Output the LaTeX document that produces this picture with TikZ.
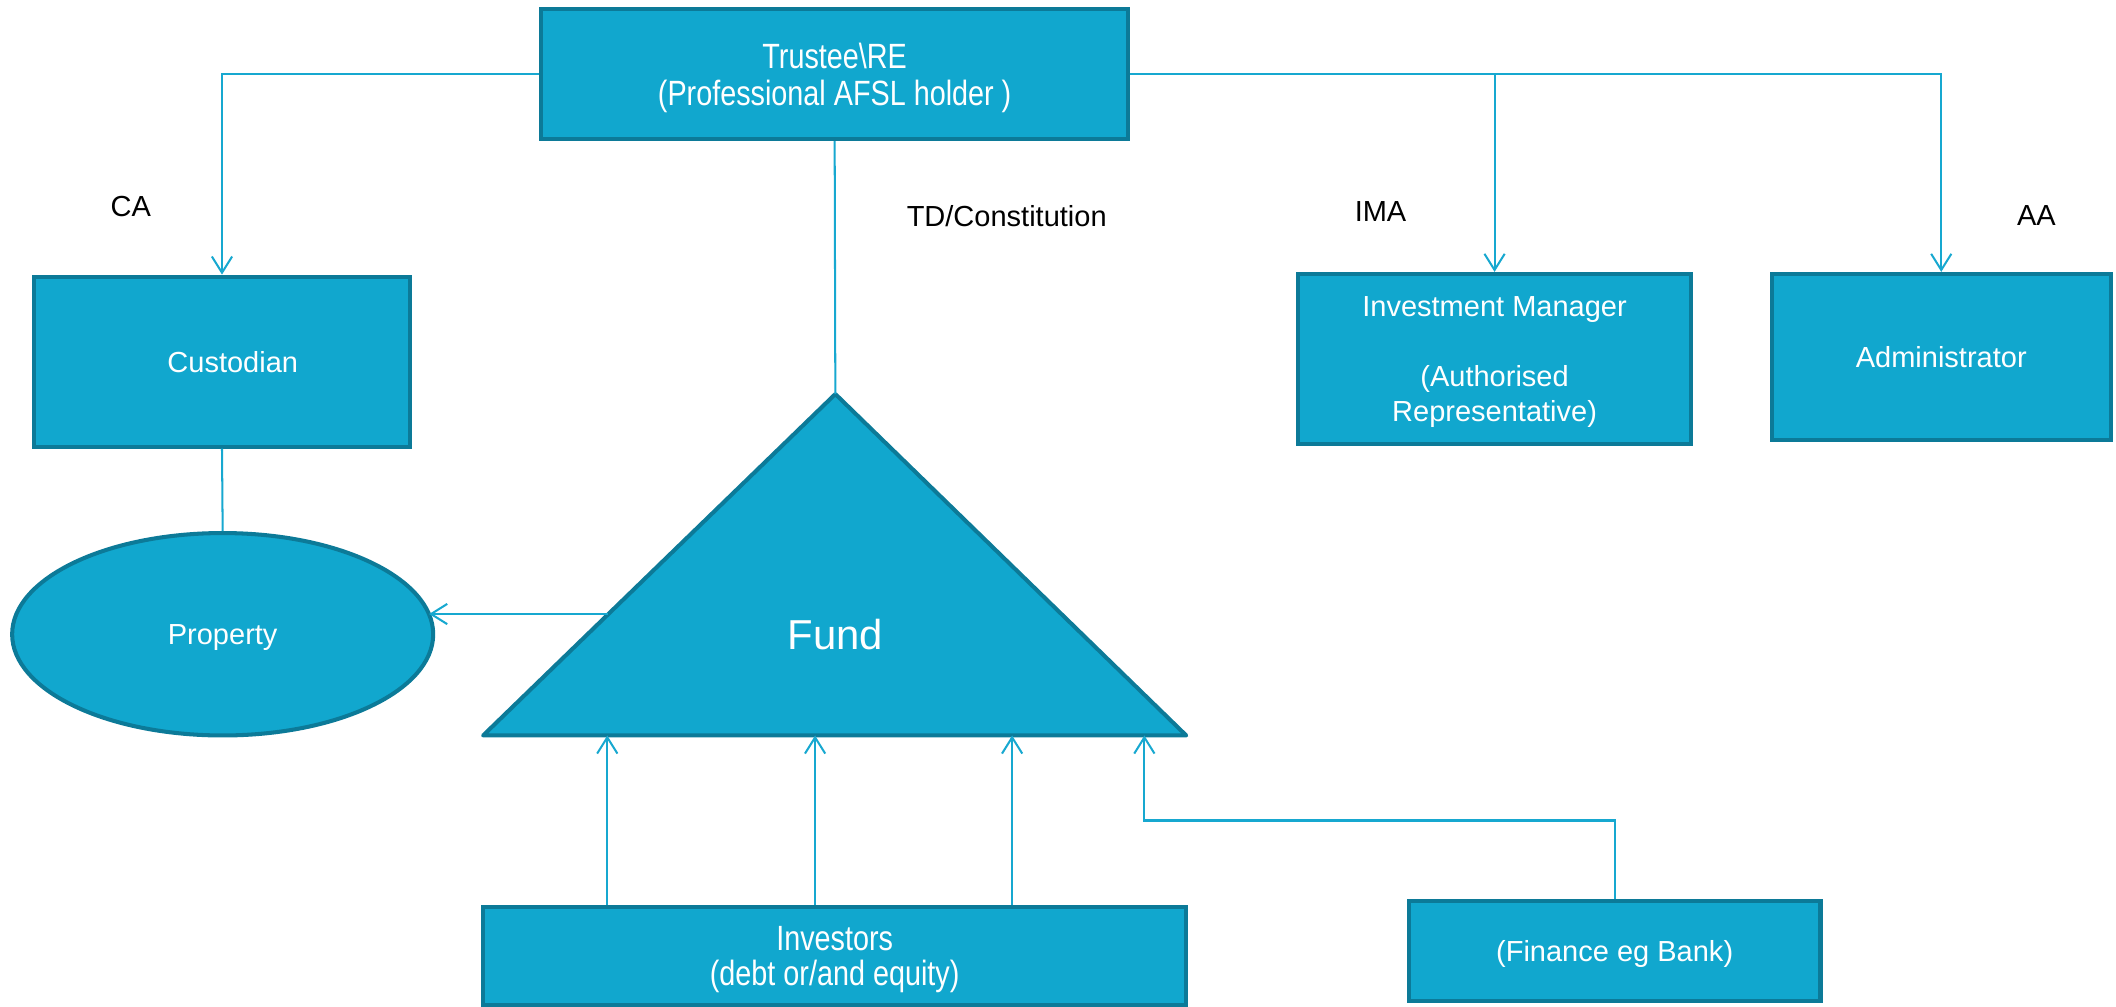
\documentclass[tikz,border=0pt]{standalone}
\usepackage{fontspec}
\setmainfont{Liberation Sans}
\newfontfamily\narrowfont[FakeStretch=0.82]{Liberation Sans}
\usetikzlibrary{arrows.meta,shapes.geometric,calc}
\definecolor{fillc}{RGB}{17,167,206}
\definecolor{borderc}{RGB}{12,122,152}
\definecolor{linec}{RGB}{23,168,208}
\tikzset{
  boxnode/.style={draw=borderc, fill=fillc, line width=3pt, rectangle, inner sep=0pt,
     text=white, align=center, font=\fontsize{21.5}{26}\selectfont},
  narrowbox/.style={boxnode, font=\narrowfont\fontsize{26}{26}\selectfont},
  conn/.style={draw=linec, line width=1.5pt},
  arr/.style={conn, -{Straight Barb[length=12pt,width=15pt]}},
  lbl/.style={text=black, inner sep=0pt, font=\fontsize{21.5}{26}\selectfont},
}
\begin{document}
\begin{tikzpicture}[x=1pt,y=-1pt]
\useasboundingbox (0,0) rectangle (1568,745.5);
% boxes
\node[narrowbox, minimum width=435pt, minimum height=96pt, font=\narrowfont\fontsize{26}{28}\selectfont, text depth=0pt] (trustee) at (618.5,55) {Trustee\textbackslash RE\\(Professional AFSL holder )};
\node[boxnode, minimum width=279pt, minimum height=126pt] (cust) at (164.5,268) {\hspace*{16pt}Custodian};
\node[boxnode, minimum width=291pt, minimum height=126pt, text depth=0pt] (im) at (1107.5,266) {Investment Manager\\[26pt](Authorised\\Representative)};
\node[boxnode, minimum width=251pt, minimum height=123pt] (admin) at (1438.5,264.5) {Administrator};
\node[boxnode, ellipse, minimum width=312pt, minimum height=150pt, text height=15.5pt, text depth=0pt] (prop) at (165,470) {Property};
\node[narrowbox, minimum width=521pt, minimum height=73pt, text depth=0pt] (inv) at (618.5,708.5) {Investors\\(debt or/and equity)};
\node[boxnode, minimum width=305pt, minimum height=74pt, text height=15.5pt, text depth=0pt] (fin) at (1196.5,705) {(Finance eg Bank)};
% fund triangle
\coordinate (fundapex) at (619,292);
\coordinate (fundL) at (358,545);
\coordinate (fundR) at (879,545);
\draw[draw=borderc, fill=fillc, line width=3pt, line join=round] (fundL) -- (fundapex) -- (fundR) -- cycle;
\node[text=white, font=\fontsize{31}{36}\selectfont] (fund) at (619,470) {Fund};
\coordinate (fundw) at ($(fundL)!0.3557!(fundapex)$);
\coordinate (finbend) at (848,608);
% labels
\node[lbl] (ca) at (97,153) {CA};
\node[lbl] (td) at (746,160) {TD/Constitution};
\node[lbl] (ima) at (1023,157) {IMA};
\node[lbl] (aa) at (1509,160) {AA};
% connectors
\draw[arr] (trustee.west) -| (cust.north);
\draw[arr] (trustee.east) -| (admin.north);
\draw[arr] (trustee.east -| im.north) -- (im.north);
\draw[conn] (trustee.south) -- (fundapex);
\draw[conn] (cust.south) -- (prop.north);
\draw[arr] (fundw) -- ([xshift=-2pt]fundw -| prop.5.6);
\draw[arr] ([xshift=-168.5pt]inv.north) -- ([xshift=-168.5pt]inv.north |- fundL);
\draw[arr] ([xshift=-14.5pt]inv.north) -- ([xshift=-14.5pt]inv.north |- fundL);
\draw[arr] ([xshift=131.5pt]inv.north) -- ([xshift=131.5pt]inv.north |- fundL);
\draw[arr] (fin.north) |- (finbend) -- (finbend |- fundR);
\end{tikzpicture}
\end{document}
